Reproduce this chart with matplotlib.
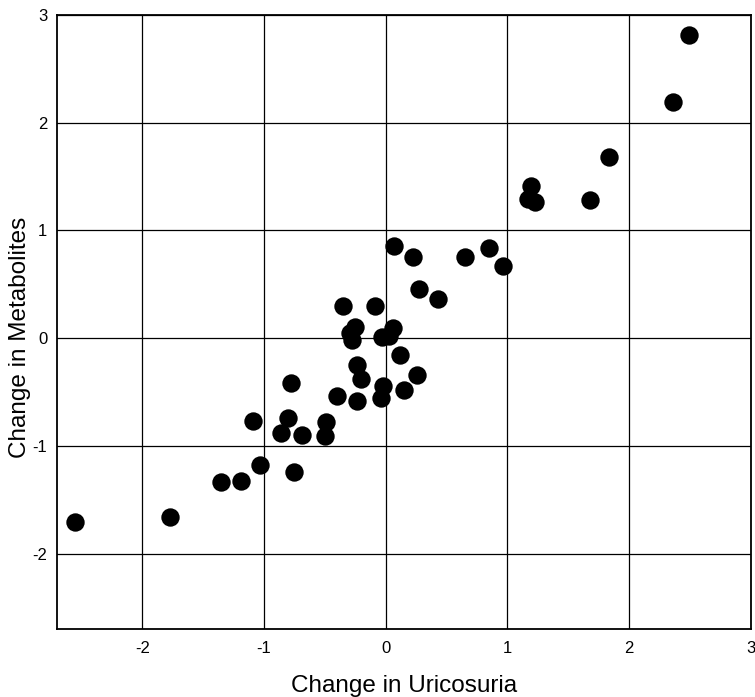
import matplotlib
matplotlib.use('Agg')
import matplotlib.pyplot as plt
import numpy as np

plt.rcParams['font.family'] = ['Liberation Sans', 'DejaVu Sans']

# change in uricosuria (x) vs change in metabolites (y)
uricosuria = [-2.55, -1.77, -1.35, -1.19, -1.03, -0.75,
              -1.09, -0.80, -0.86, -0.69, -0.49, -0.50,
              -0.78, -0.40, -0.24, -0.04, -0.02, 0.15, 0.26,
              -0.24, -0.20, 0.12,
              -0.29, -0.25, -0.28, -0.03, 0.03, 0.06,
              -0.35, -0.09,
              0.065, 0.22, 0.27, 0.43,
              0.65, 0.85, 0.96,
              1.19, 1.17, 1.23, 1.68, 1.83,
              2.36, 2.49]
metabolites = [-1.71, -1.66, -1.34, -1.33, -1.18, -1.24,
               -0.77, -0.74, -0.88, -0.90, -0.78, -0.91,
               -0.42, -0.54, -0.58, -0.56, -0.44, -0.48, -0.34,
               -0.25, -0.38, -0.16,
               0.05, 0.10, -0.02, 0.01, 0.02, 0.09,
               0.30, 0.30,
               0.86, 0.75, 0.46, 0.36,
               0.75, 0.84, 0.67,
               1.41, 1.29, 1.26, 1.28, 1.68,
               2.19, 2.81]

ticks = [-2, -1, 0, 1, 2, 3]

fig = plt.figure(figsize=(7.55, 6.97), dpi=100)
ax = fig.add_axes([0.0755, 0.0976, 0.9192, 0.8809])

ax.scatter(uricosuria, metabolites, s=175, c='black', zorder=3, linewidths=0)

ax.set_xlim(-2.7, 3)
ax.set_ylim(-2.7, 3)
ax.set_xticks(ticks)
ax.set_yticks(ticks)
ax.set_xticklabels([str(t) for t in ticks])
ax.set_yticklabels([str(t) for t in ticks])
ax.grid(True, color='black', linewidth=0.9)
ax.set_axisbelow(True)
for sp in ax.spines.values():
    sp.set_linewidth(1.3)
ax.tick_params(axis='x', length=0, pad=9, labelsize=12)
ax.tick_params(axis='y', length=0, pad=7, labelsize=12)

ax.set_xlabel('Change in Uricosuria', fontsize=17.5, labelpad=13)
fig.text(20 / 755, 1 - 337 / 697, 'Change in Metabolites', rotation=90,
         ha='center', va='center', fontsize=17.5)

plt.savefig('out.png', dpi=100)
